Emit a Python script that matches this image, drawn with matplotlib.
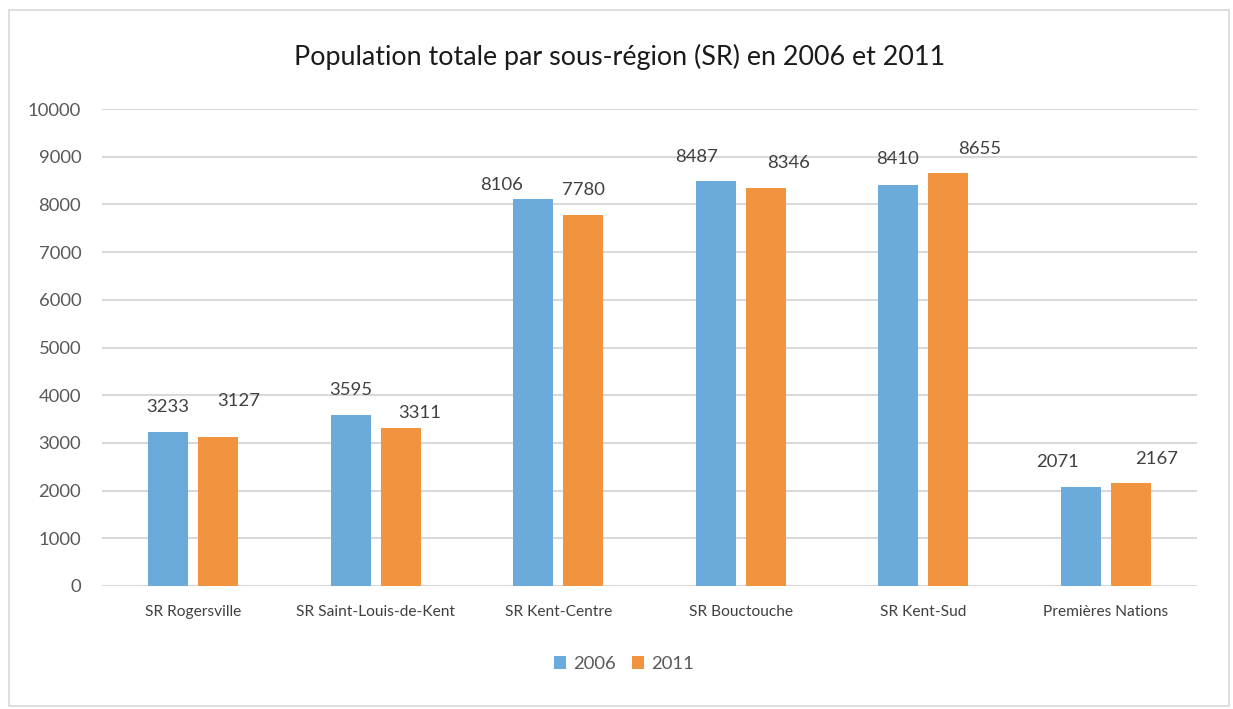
import matplotlib
matplotlib.use("Agg")
import matplotlib.pyplot as plt
from matplotlib.patches import Rectangle
import numpy as np

categories = ["SR Rogersville", "SR Saint-Louis-de-Kent", "SR Kent-Centre",
              "SR Bouctouche", "SR Kent-Sud", "Premières Nations"]
values_2006 = [3233, 3595, 8106, 8487, 8410, 2071]
values_2011 = [3127, 3311, 7780, 8346, 8655, 2167]
series_names = ["2006", "2011"]
yticks = [0, 1000, 2000, 3000, 4000, 5000, 6000, 7000, 8000, 9000, 10000]

# label offsets in pixels (dx, dy) relative to bar top center
off_2006 = [(-1, 25), (0, 25), (-32, 14), (-19, 24), (-1, 26), (-23, 25)]
off_2011 = [(20, 36), (19, 15), (0, 25), (23, 25), (31, 24), (26, 24)]

plt.rcParams['font.family'] = ['Lato', 'DejaVu Sans']
W, H = 1233, 709
fig = plt.figure(figsize=(W / 100, H / 100), dpi=100)
fig.patch.set_facecolor("white")

# chart border
fig.add_artist(Rectangle((9 / W, 1 - 706 / H), (1229 - 9) / W, (706 - 10) / H,
                         transform=fig.transFigure, fill=False,
                         edgecolor="#D9D9D9", linewidth=1.2))

x0, x1 = 102, 1197
y0, y1 = 586, 109
ax = fig.add_axes([x0 / W, 1 - y0 / H, (x1 - x0) / W, (y0 - y1) / H])
ax.set_xlim(-0.5, len(categories) - 0.5)
ax.set_ylim(0, 10000)

blue = "#6AABDC"
orange = "#F29340"
bw = 0.22
d = 0.137
x = np.arange(len(categories))
b1 = ax.bar(x - d, values_2006, bw, color=blue, label=series_names[0], zorder=3)
b2 = ax.bar(x + d, values_2011, bw, color=orange, label=series_names[1], zorder=3)

txtc = "#404040"
for i in range(len(categories)):
    ax.annotate(str(values_2006[i]), (x[i] - d, values_2006[i]),
                xytext=(off_2006[i][0] * 0.72, off_2006[i][1] * 0.72),
                textcoords="offset points", ha="center", va="center",
                fontsize=13.3, color=txtc)
    ax.annotate(str(values_2011[i]), (x[i] + d, values_2011[i]),
                xytext=(off_2011[i][0] * 0.72, off_2011[i][1] * 0.72),
                textcoords="offset points", ha="center", va="center",
                fontsize=13.3, color=txtc)

ax.set_yticks(yticks)
ax.set_yticklabels([str(v) for v in yticks], fontsize=13.3, color="#595959")
ax.set_xticks(x)
ax.set_xticklabels(categories, fontsize=11.2, color="#404040")
ax.tick_params(axis="both", length=0)
ax.tick_params(axis="y", pad=15)
ax.tick_params(axis="x", pad=14)
ax.grid(axis="y", color="#D9D9D9", linewidth=1.5, zorder=0)
for s in ax.spines.values():
    s.set_visible(False)

fig.text(620 / W, 1 - 57 / H, "Population totale par sous-région (SR) en 2006 et 2011",
         ha="center", va="center", fontsize=19.4, color="#1a1a1a")

leg = fig.legend(handles=[b1, b2], labels=series_names, loc="center",
                 bbox_to_anchor=(624 / W, 1 - 664 / H), ncol=2, frameon=False,
                 fontsize=13.3, handlelength=0.65, handleheight=0.65,
                 handletextpad=0.35, columnspacing=0.9)
for t in leg.get_texts():
    t.set_color("#595959")

fig.savefig("out.png", dpi=100, facecolor="white")
